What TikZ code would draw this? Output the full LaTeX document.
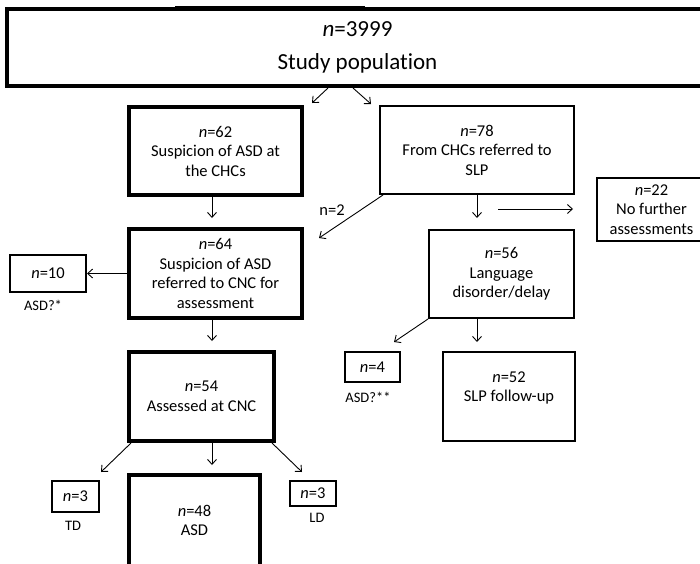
\documentclass[tikz,border=0pt]{standalone}
\usepackage{fontspec}
\setmainfont{Carlito}[Ligatures=NoCommon]
\usetikzlibrary{arrows.meta}

\begin{document}
\begin{tikzpicture}[x=1pt,y=1pt,
	bigbox/.style={draw, line width=4pt, inner sep=0pt, align=center, font=\fontsize{16.5}{19.5}\selectfont},
	box/.style={draw, line width=2pt, inner sep=0pt, align=center, font=\fontsize{16.5}{19.5}\selectfont},
	note/.style={inner sep=0pt, font=\fontsize{14.5}{17}\selectfont},
	arr/.style={-{Straight Barb[length=5pt,width=9pt]}, line width=0.9pt}]
	\useasboundingbox (0,0) rectangle (700,-563);
	\clip (0,0) rectangle (700,-563);

	\node[bigbox, minimum width=701pt, minimum height=77pt, font=\fontsize{23}{33}\selectfont] (pop) at (357.5,-47.5) {\textit{n}=3999\\Study population};
	\fill (175,-5.5) rectangle (365,-11);

	% left column
	\node[bigbox, minimum width=173pt, minimum height=88pt] (chc) at (215.5,-151) {\textit{n}=62\\Suspicion of ASD at\\the CHCs};
	\node[bigbox, minimum width=173pt, minimum height=89pt] (cnc) at (215.5,-273.5) {\textit{n}=64\\Suspicion of ASD\\referred to CNC for\\assessment};
	\node[box, minimum width=76pt, minimum height=37pt] (q1) at (48,-273.5) {\textit{n}=10};
	\node[bigbox, minimum width=145pt, minimum height=89pt] (asc) at (201.5,-396.5) {\textit{n}=54\\Assessed at CNC};
	\node[box, minimum width=47pt, minimum height=31pt] (td) at (75.5,-496.5) {\textit{n}=3};
	\node[bigbox, minimum width=131pt, minimum height=91pt] (asd) at (194.5,-520.5) {\textit{n}=48\\ASD};
	\node[box, minimum width=46pt, minimum height=25pt] (ld) at (313,-493.5) {\textit{n}=3};

	% right column
	\node[box, minimum width=194pt, minimum height=88pt] (slp) at (477,-150) {\textit{n}=78\\From CHCs referred to\\SLP};
	\node[box, minimum width=109pt, minimum height=63pt] (nfa) at (651.5,-209.5) {\textit{n}=22\\No further\\assessments};
	\node[box, minimum width=145pt, minimum height=88pt] (lang) at (501.5,-274) {\textit{n}=56\\Language\\disorder/delay};
	\node[box, minimum width=55pt, minimum height=30pt] (q2) at (372.5,-367) {\textit{n}=4};
	\node[box, minimum width=132pt, minimum height=89pt] (fol) at (509,-396.5) {\textit{n}=52\\SLP follow-up\\\mbox{}};

	\node[note] (lq1) at (43,-305) {ASD?*};
	\node[note] (ltd) at (73,-526) {TD};
	\node[note] (lld) at (317,-518) {LD};
	\node[note] (lq2) at (368,-397) {ASD?**};
	\node[inner sep=0pt, font=\fontsize{16.5}{19.5}\selectfont] (ln2) at (332,-210) {n=2};

	\draw[arr] ([xshift=-29.5pt]pop.south) -- ([shift={(8pt,2pt)}]chc.north east);
	\draw[arr] ([xshift=-4.5pt]pop.south) -- ([shift={(-8pt,1pt)}]slp.north west);
	\draw[arr, shorten >=9pt] ([xshift=-3.5pt]chc.south) -- ([xshift=-3.5pt]cnc.north);
	\draw[arr] ([xshift=4pt]slp.south west) -- ([shift={(15pt,-11pt)}]cnc.north east);
	\draw[arr, shorten >=11pt] (slp.south) -- ([xshift=-24.5pt]lang.north);
	\coordinate (h1) at (498,-209);
	\coordinate (h2) at (573,-209);
	\draw[arr] (h1) -- (h2);
	\draw[arr] (cnc.west) -- (q1.east);
	\draw[arr, shorten >=9pt] ([xshift=-3.5pt]cnc.south) -- ([xshift=-3.5pt]cnc.south |- asc.north);
	\draw[arr] ([xshift=4pt]asc.south west) -- ([shift={(1pt,8pt)}]td.north east);
	\draw[arr, shorten >=8pt] ([xshift=10.5pt]asc.south) -- ([xshift=10.5pt]asc.south |- asd.north);
	\draw[arr] ([xshift=-4pt]asc.south east) -- ([shift={(13pt,8pt)}]ld.north west);
	\draw[arr] (lang.south west) -- ([shift={(-7pt,9pt)}]q2.north east);
	\draw[arr, shorten >=9pt] ([xshift=-24.5pt]lang.south) -- ([xshift=-24.5pt]lang.south |- fol.north);
\end{tikzpicture}
\end{document}
